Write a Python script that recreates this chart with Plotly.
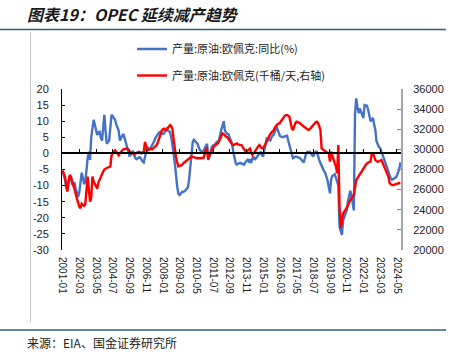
import plotly.graph_objects as go

# ---------------- data ----------------
months = [f"{y}-{m:02d}" for y in range(2001, 2025) for m in range(1, 13)][:284]

tick_labels = ["2001-01", "2002-03", "2003-05", "2004-07", "2005-09", "2006-11",
               "2008-01", "2009-03", "2010-05", "2011-07", "2012-09", "2013-11",
               "2015-01", "2016-03", "2017-05", "2018-07", "2019-09", "2020-11",
               "2022-01", "2023-03", "2024-05"]

# OPEC crude output, YoY (%)  -- left axis
yoy = [
    -5.5, -6.5, -8, -10.5, -11.5, -9, -7, -8, -9.5, -10, -9, -11,          # 2001
    -12, -13.5, -12, -9, -6, -7.5, -9.5, -9, -4, -1.5, 0.5, -2,            # 2002
    5, 8.3, 10.4, 9, 7, 5.7, 6.5, 6.7, 5, 4, 8, 12,                        # 2003
    7, 3, 3.5, 4, 8, 12, 11.5, 11, 10.4, 9, 8, 7,                          # 2004
    4, 5, 5.5, 6, 4.5, 3, 2, 1, -0.7, -0.5, 0.3, 0.8,                      # 2005
    -0.5, -1.5, -1.8, -1.5, -1.2, -1.3, -2, -2.5, -2.8, -1, 1, 2,          # 2006
    1.5, 1.5, 1.8, 2.5, 3, 4, 5, 5.7, 6, 6.5, 6.7, 6.3,                    # 2007
    6, 6.2, 7, 7.6, 7.2, 7, 6.6, 5, 3, 0, -3, -7,                          # 2008
    -10.3, -12.5, -12.9, -12.5, -12, -12, -11.8, -11.5, -11, -10.5, -8, -4,  # 2009
    0.5, 3.5, 4.2, 3.8, 3.3, 3, 2, 1, 0.8, 0.5, 0.5, 1.5,                  # 2010
    2.5, 3, -1.5, -1, 0.5, 2, 2.5, 2.5, 3, 3.5, 3.8, 4,                    # 2011
    6, 7.5, 8.5, 10, 7, 6.5, 6, 6, 5, 4, 3, 0.5,                           # 2012
    -2, -3, -3.5, -3.2, -3, -3, -3.2, -3.4, -3.5, -2.8, -2.2, -2,          # 2013
    -2.5, -1.8, -3, -1.5, -1, -2, -1.5, -1, -0.5, 0.2, 0.5, -0.5,          # 2014
    -1, 1, 3, 4.7, 4.5, 4.2, 4, 5, 5.5, 6, 7, 8.5,                         # 2015
    7.5, 6.5, 5.5, 5.2, 5, 5, 5.3, 5.5, 5.5, 4, 2.5, 1,                    # 2016
    -0.5, -1.5, -1.3, -1, -1, -1.2, -1.5, -1.5, -2, -2.5, -2.8, -1.5,      # 2017
    0, 0.5, 0.3, 0.5, 0, -0.5, -1, 0, 0.5, 0.5, -1, -2,                    # 2018
    -3, -4, -5, -5.5, -6, -7, -8.5, -10.5, -12.4, -8, -7, -6.8,            # 2019
    -6.5, -7.5, -8.5, -10, -22.8, -24.5, -25.3, -20.8, -19.5, -18.5, -17.7, -15,  # 2020
    -12.5, -11.6, -13, -15.5, -17.7, 12.4, 17.1, 14.5, 12.5, 14, 13, 12,   # 2021
    11, 15, 15, 14.8, 13.5, 11, 10, 10.5, 11, 9, 7.3, 3.7,                 # 2022
    2.8, 2, 1.7, 0.5, -0.5, -1.5, -2.5, -3.5, -4.5, -5.5, -7, -7.8,        # 2023
    -8.2, -8, -7.8, -7.5, -7, -6, -5, -2.8,                                # 2024
]

# OPEC crude output (kb/d) -- right axis
prod = [
    27900, 27600, 27300, 26500, 25800, 26800, 27450, 27300, 26900, 26600, 26200, 25600,  # 2001
    25100, 24700, 24300, 24160, 24600, 24500, 24400, 24550, 25800, 27300, 26000, 24800,  # 2002
    25200, 27300, 26800, 26600, 26300, 26100, 26700, 27000, 27300, 27600, 27800, 28000,  # 2003
    28100, 28150, 28200, 28250, 28300, 29400, 29700, 29800, 29900, 29700, 29500, 29400,  # 2004
    29600, 29800, 29900, 30000, 30050, 30100, 30080, 29900, 29800, 29700, 29650, 29600,  # 2005
    29500, 29600, 29650, 29700, 29750, 29700, 29600, 29700, 29750, 30750, 30300, 29900,  # 2006
    29950, 30000, 30050, 30000, 30100, 30250, 30350, 30450, 30800, 31200, 31580, 31800,  # 2007
    32000, 32060, 31950, 31900, 32100, 32300, 32420, 32300, 32060, 31000, 30000, 29300,  # 2008
    28700, 28300, 28350, 28400, 28450, 28600, 28700, 28850, 28960, 29050, 29150, 29200,  # 2009
    29280, 29250, 29200, 29150, 29120, 29100, 29150, 29100, 29150, 29100, 29120, 29500,  # 2010
    30000, 30080, 28960, 29400, 29700, 29900, 30100, 30300, 30400, 30500, 30600, 30800,  # 2011
    31100, 31350, 31580, 31500, 31350, 31260, 31200, 31000, 30910, 30700, 30500, 30430,  # 2012
    30500, 30550, 30590, 30500, 30450, 30430, 30400, 30200, 30000, 29850, 29760, 29900,  # 2013
    30000, 30080, 29700, 29440, 29600, 29800, 29936, 30080, 30300, 30430, 30300, 30100,  # 2014
    30100, 30300, 30500, 30760, 31000, 31300, 31590, 31700, 31800, 31925, 32200, 32420,  # 2015
    32500, 32550, 32600, 32800, 33000, 33090, 33300, 33400, 33420, 33350, 33250, 32700,  # 2016
    32100, 31925, 32300, 32600, 32750, 32700, 32650, 32590, 32450, 32350, 32260, 32150,  # 2017
    32050, 32000, 31925, 32000, 32150, 32260, 32400, 32550, 32700, 32750, 32600, 32300,  # 2018
    31925, 30100, 30000, 29900, 29770, 29700, 29650, 29600, 28780, 29770, 29300, 28900,  # 2019
    28610, 28300, 27610, 30430, 24300, 22170, 22900, 23630, 23800, 24000, 24130, 24400,  # 2020
    24700, 24960, 25150, 25300, 25460, 26200, 26950, 27150, 27300, 27450, 27700, 27900,  # 2021
    28120, 28300, 28450, 28610, 28700, 28750, 28780, 29610, 29610, 29300, 28940, 28850,  # 2022
    28780, 28800, 28900, 28940, 28700, 28400, 28120, 27800, 27500, 27280, 26620, 26500,  # 2023
    26450, 26450, 26500, 26550, 26620, 26600, 26650, 26620,                              # 2024
]

left_ticks = [20, 15, 10, 5, 0, -5, -10, -15, -20, -25, -30]
right_ticks = [36000, 34000, 32000, 30000, 28000, 26000, 24000, 22000, 20000]

assert len(yoy) == len(months) == len(prod), (len(yoy), len(prod), len(months))

# ---------------- layout geometry (pixels) ----------------
W, H = 461, 352
L, R, T, B = 62, 401, 89, 250


def px_x(x):
    return (x - L) / (R - L)


def px_y(y):
    return (B - y) / (B - T)


CJK = "Noto Sans CJK SC"
NUM = "Liberation Sans"
BLUE = "#4472C4"
RED = "#FF0000"

fig = go.Figure()
fig.add_trace(go.Scatter(
    x=months, y=yoy, mode="lines", name="产量:原油:欧佩克:同比(%)",
    line=dict(color=BLUE, width=2.4), xaxis="x", yaxis="y", legend="legend"))
fig.add_trace(go.Scatter(
    x=months, y=prod, mode="lines", name="产量:原油:欧佩克(千桶/天,右轴)",
    line=dict(color=RED, width=2.4), xaxis="x2", yaxis="y2", legend="legend2"))

n = len(months)
fig.update_layout(
    width=W, height=H,
    margin=dict(l=L, r=W - R, t=T, b=H - B),
    paper_bgcolor="white", plot_bgcolor="white",
    font=dict(family=NUM, size=11, color="#222"),
    xaxis=dict(type="category", range=[-0.5, n - 0.5], tickvals=tick_labels,
               ticktext=tick_labels, tickangle=90, showline=False, ticks="",
               showgrid=False, zeroline=False, tickfont=dict(size=10, family=NUM),
               ticklabelstandoff=6),
    xaxis2=dict(type="category", range=[-0.5, n - 0.5], overlaying="x", anchor="free",
                position=(0 - left_ticks[-1]) / (left_ticks[0] - left_ticks[-1]),
                tickvals=tick_labels, showticklabels=False, showline=True,
                linecolor="black", linewidth=1.5, ticks="inside", ticklen=4,
                tickcolor="black", tickwidth=1, showgrid=False, zeroline=False),
    yaxis=dict(range=[left_ticks[-1], left_ticks[0]], tickvals=left_ticks,
               ticktext=[str(v) for v in left_ticks], showline=True, linecolor="black",
               linewidth=1, ticks="inside", ticklen=3, tickcolor="black",
               showgrid=False, zeroline=False, tickfont=dict(size=11, family=NUM),
               ticklabelstandoff=10),
    yaxis2=dict(range=[right_ticks[-1], right_ticks[0]], tickvals=right_ticks,
                ticktext=[str(v) for v in right_ticks], overlaying="y", side="right",
                anchor="x", showline=True, linecolor="#A6A6A6", linewidth=2,
                ticks="inside", ticklen=4, tickcolor="#808080", showgrid=False,
                zeroline=False, tickfont=dict(size=11, family=NUM),
                ticklabelstandoff=8),
    legend=dict(x=px_x(132), y=px_y(49), xanchor="left", yanchor="middle",
                bgcolor="rgba(0,0,0,0)", font=dict(family=CJK, size=11, color="#222"),
                itemwidth=30),
    legend2=dict(x=px_x(132), y=px_y(75.5), xanchor="left", yanchor="middle",
                 bgcolor="rgba(0,0,0,0)", font=dict(family=CJK, size=11, color="#222"),
                 itemwidth=30),
    showlegend=True,
)

# decorative report frame
fig.add_shape(type="line", xref="paper", yref="paper", x0=px_x(0), x1=px_x(446),
              y0=px_y(29.5), y1=px_y(29.5), line=dict(color="#2F5B7C", width=1.6))
fig.add_shape(type="line", xref="paper", yref="paper", x0=px_x(0), x1=px_x(446),
              y0=px_y(330), y1=px_y(330), line=dict(color="#2F5B7C", width=1.6))
fig.add_shape(type="line", xref="paper", yref="paper", x0=px_x(30.5), x1=px_x(30.5),
              y0=px_y(32), y1=px_y(322), line=dict(color="#C8C8C8", width=1))

fig.add_annotation(text="图表19：OPEC 延续减产趋势", xref="paper", yref="paper",
                   x=px_x(25), y=px_y(14), xanchor="left", yanchor="middle",
                   showarrow=False,
                   font=dict(family=CJK, size=16, color="#1a1a1a", weight="bold",
                             style="italic"))
fig.add_annotation(text="来源：EIA、国金证券研究所", xref="paper", yref="paper",
                   x=px_x(25), y=px_y(342.5), xanchor="left", yanchor="middle",
                   showarrow=False, font=dict(family=CJK, size=12, color="#222"))

fig.write_html("out.html")
